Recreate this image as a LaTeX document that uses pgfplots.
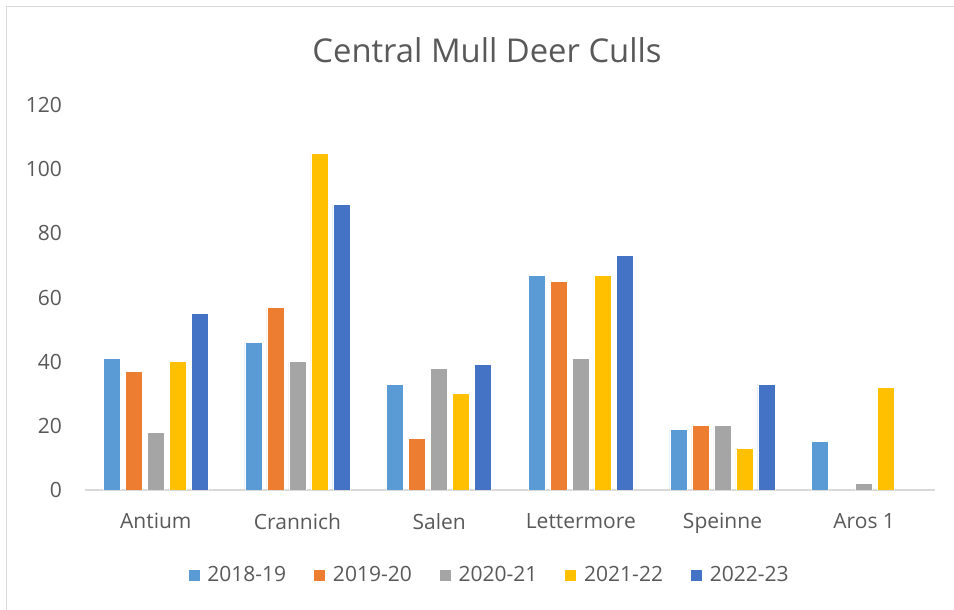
\documentclass[border=0pt]{standalone}
\usepackage{pgfplots}
\pgfplotsset{compat=1.18}
\usepackage{fontspec}
\setmainfont{Open Sans}

\definecolor{cA}{HTML}{5B9BD5}
\definecolor{cB}{HTML}{ED7D31}
\definecolor{cC}{HTML}{A5A5A5}
\definecolor{cD}{HTML}{FFC000}
\definecolor{cE}{HTML}{4472C4}
\definecolor{txt}{HTML}{595959}
\definecolor{axl}{HTML}{D9D9D9}

\begin{document}
\begin{tikzpicture}
% page = 954x610 px, 1px = 0.5pt, axis origin at px (85,490)
\path[use as bounding box] (-42.5pt,-60pt) rectangle (434.5pt,245pt);
\draw[axl, line width=0.7pt] (-39.25pt,-60pt) -- (-39.25pt,241.75pt) -- (434.5pt,241.75pt);
\begin{axis}[
  at={(0,0)}, anchor=south west,
  scale only axis, width=425pt, height=192.5pt,
  ymin=0, ymax=120, ytick={0,20,...,120},
  xmin=-0.5, xmax=5.5,
  xtick={0,1,2,3,4,5},
  xticklabels={Antium,Crannich,Salen,Lettermore,Speinne,Aros 1},
  ybar=2.5pt, bar width=8.5pt,
  axis line style={draw=none},
  axis x line*=bottom, axis y line*=left,
  x axis line style={draw=axl, line width=1pt},
  major tick length=0pt,
  tick label style={font=\fontsize{10.5}{12}\selectfont, text=txt},
  xticklabel style={yshift=-8pt},
  yticklabel style={xshift=-8pt},
  /pgf/number format/assume math mode=true,
  legend style={at={(0.476,-0.222)}, anchor=center, draw=none,
    font=\fontsize{10.5}{12}\selectfont, text=txt,
    legend columns=5, column sep=2pt,
    nodes={inner xsep=1.5pt},
    /tikz/every even column/.append style={column sep=12pt}},
  legend image code/.code={\fill[#1] (0pt,-3pt) rectangle (6pt,3pt);},
  every axis plot/.append style={draw=white, line width=0.4pt},
]
\addplot[fill=cA] coordinates {(0,41)(1,46)(2,33)(3,67)(4,19)(5,15)};
\addlegendentry{2018-19}
\addplot[fill=cB] coordinates {(0,37)(1,57)(2,16)(3,65)(4,20)};
\addlegendentry{2019-20}
\addplot[fill=cC] coordinates {(0,18)(1,40)(2,38)(3,41)(4,20)(5,2)};
\addlegendentry{2020-21}
\addplot[fill=cD] coordinates {(0,40)(1,105)(2,30)(3,67)(4,13)(5,32)};
\addlegendentry{2021-22}
\addplot[fill=cE] coordinates {(0,55)(1,89)(2,39)(3,73)(4,33)};
\addlegendentry{2022-23}
\end{axis}
\node[text=txt, font=\fontsize{16.4}{19}\selectfont] at (201pt,220pt) {Central Mull Deer Culls};
\end{tikzpicture}
\end{document}
